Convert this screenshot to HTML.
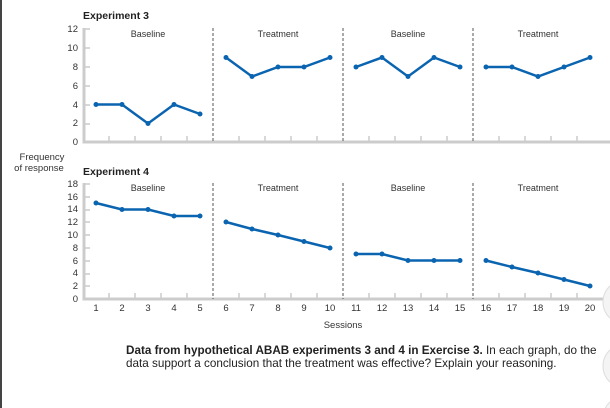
<!DOCTYPE html><html><head><style>html,body{margin:0;background:#fff;overflow:hidden;width:610px;height:408px}svg{display:block}text{font-family:"Liberation Sans",sans-serif}</style></head><body>
<svg width="610" height="408" viewBox="0 0 610 408" xmlns="http://www.w3.org/2000/svg">
<rect x="0" y="0" width="2" height="408" fill="#444"/>
<text x="83" y="19" font-size="10.5" font-weight="bold" fill="#222">Experiment 3</text>
<text x="83" y="175" font-size="10.5" font-weight="bold" fill="#222">Experiment 4</text>
<text x="42" y="160" font-size="9.5" fill="#333" text-anchor="middle">Frequency</text>
<text x="39" y="171" font-size="9.5" fill="#333" text-anchor="middle">of response</text>
<g font-size="9.5" fill="#333" text-anchor="end">
<text x="78" y="145">0</text><text x="78" y="126">2</text><text x="78" y="108">4</text><text x="78" y="89">6</text><text x="78" y="70">8</text><text x="78" y="51">10</text><text x="78" y="32">12</text>
<text x="78" y="302">0</text><text x="78" y="289">2</text><text x="78" y="276">4</text><text x="78" y="264">6</text><text x="78" y="251">8</text><text x="78" y="238">10</text><text x="78" y="225">12</text><text x="78" y="212">14</text><text x="78" y="200">16</text><text x="78" y="187">18</text>
</g>
<g stroke="#ccc" stroke-width="3" fill="none">
<path d="M84 28V142H610"/><path d="M84 183V299H610"/>
</g>
<g stroke="#ccc" stroke-width="1.5">
<path d="M84 48h6M84 67h6M84 86h6M84 105h6M84 124h6M84 29h6"/>
<path d="M84 197h6M84 210h6M84 222h6M84 235h6M84 248h6M84 261h6M84 274h6M84 286h6M84 184h6"/>
<path d="M109 142v-6M135 142v-6M161 142v-6M187 142v-6M239 142v-6M265 142v-6M291 142v-6M317 142v-6M369 142v-6M395 142v-6M421 142v-6M447 142v-6M499 142v-6M525 142v-6M551 142v-6M577 142v-6"/>
<path d="M109 299v-6M135 299v-6M161 299v-6M187 299v-6M239 299v-6M265 299v-6M291 299v-6M317 299v-6M369 299v-6M395 299v-6M421 299v-6M447 299v-6M499 299v-6M525 299v-6M551 299v-6M577 299v-6"/>
</g>
<g stroke="#555" stroke-width="1" stroke-dasharray="3,2">
<path d="M213 28V142M343 28V142M473 28V142M213 183V299M343 183V299M473 183V299"/>
</g>
<g font-size="9" fill="#333" text-anchor="middle">
<text x="148" y="37">Baseline</text><text x="278" y="37">Treatment</text><text x="408" y="37">Baseline</text><text x="538" y="37">Treatment</text>
<text x="148" y="191">Baseline</text><text x="278" y="191">Treatment</text><text x="408" y="191">Baseline</text><text x="538" y="191">Treatment</text>
</g>
<g font-size="9.5" fill="#333" text-anchor="middle">
<text x="96" y="311">1</text><text x="122" y="311">2</text><text x="148" y="311">3</text><text x="174" y="311">4</text><text x="200" y="311">5</text><text x="226" y="311">6</text><text x="252" y="311">7</text><text x="278" y="311">8</text><text x="304" y="311">9</text><text x="330" y="311">10</text><text x="356" y="311">11</text><text x="382" y="311">12</text><text x="408" y="311">13</text><text x="434" y="311">14</text><text x="460" y="311">15</text><text x="486" y="311">16</text><text x="512" y="311">17</text><text x="538" y="311">18</text><text x="564" y="311">19</text><text x="590" y="311">20</text>
<text x="343" y="328">Sessions</text>
</g>
<g stroke="#0a64b0" stroke-width="2.5" fill="none">
<polyline points="96,104.5 122,104.5 148,123.5 174,104.5 200,114"/>
<polyline points="226,57.5 252,76.5 278,67 304,67 330,57.5"/>
<polyline points="356,67 382,57.5 408,76.5 434,57.5 460,67"/>
<polyline points="486,67 512,67 538,76.5 564,67 590,57.5"/>
<polyline points="96,203 122,209.5 148,209.5 174,216 200,216"/>
<polyline points="226,222 252,229 278,235 304,241.5 330,248"/>
<polyline points="356,254 382,254 408,260.5 434,260.5 460,260.5"/>
<polyline points="486,260.5 512,267 538,273 564,279.5 590,286"/>
</g>
<g fill="#0a64b0">
<circle cx="96" cy="104.5" r="2.5"/><circle cx="122" cy="104.5" r="2.5"/><circle cx="148" cy="123.5" r="2.5"/><circle cx="174" cy="104.5" r="2.5"/><circle cx="200" cy="114" r="2.5"/>
<circle cx="226" cy="57.5" r="2.5"/><circle cx="252" cy="76.5" r="2.5"/><circle cx="278" cy="67" r="2.5"/><circle cx="304" cy="67" r="2.5"/><circle cx="330" cy="57.5" r="2.5"/>
<circle cx="356" cy="67" r="2.5"/><circle cx="382" cy="57.5" r="2.5"/><circle cx="408" cy="76.5" r="2.5"/><circle cx="434" cy="57.5" r="2.5"/><circle cx="460" cy="67" r="2.5"/>
<circle cx="486" cy="67" r="2.5"/><circle cx="512" cy="67" r="2.5"/><circle cx="538" cy="76.5" r="2.5"/><circle cx="564" cy="67" r="2.5"/><circle cx="590" cy="57.5" r="2.5"/>
<circle cx="96" cy="203" r="2.5"/><circle cx="122" cy="209.5" r="2.5"/><circle cx="148" cy="209.5" r="2.5"/><circle cx="174" cy="216" r="2.5"/><circle cx="200" cy="216" r="2.5"/>
<circle cx="226" cy="222" r="2.5"/><circle cx="252" cy="229" r="2.5"/><circle cx="278" cy="235" r="2.5"/><circle cx="304" cy="241.5" r="2.5"/><circle cx="330" cy="248" r="2.5"/>
<circle cx="356" cy="254" r="2.5"/><circle cx="382" cy="254" r="2.5"/><circle cx="408" cy="260.5" r="2.5"/><circle cx="434" cy="260.5" r="2.5"/><circle cx="460" cy="260.5" r="2.5"/>
<circle cx="486" cy="260.5" r="2.5"/><circle cx="512" cy="267" r="2.5"/><circle cx="538" cy="273" r="2.5"/><circle cx="564" cy="279.5" r="2.5"/><circle cx="590" cy="286" r="2.5"/>
</g>
<g fill="#f4f4f4" stroke="#ddd">
<circle cx="625" cy="302" r="22"/><circle cx="625" cy="366" r="22"/><circle cx="625" cy="418" r="22"/>
</g>
<text x="126" y="354" font-size="11.7" fill="#222"><tspan font-weight="bold">Data from hypothetical ABAB experiments 3 and 4 in Exercise 3.</tspan> In each graph, do the</text>
<text x="126" y="367" font-size="11.7" fill="#222">data support a conclusion that the treatment was effective? Explain your reasoning.</text>
</svg></body></html>
